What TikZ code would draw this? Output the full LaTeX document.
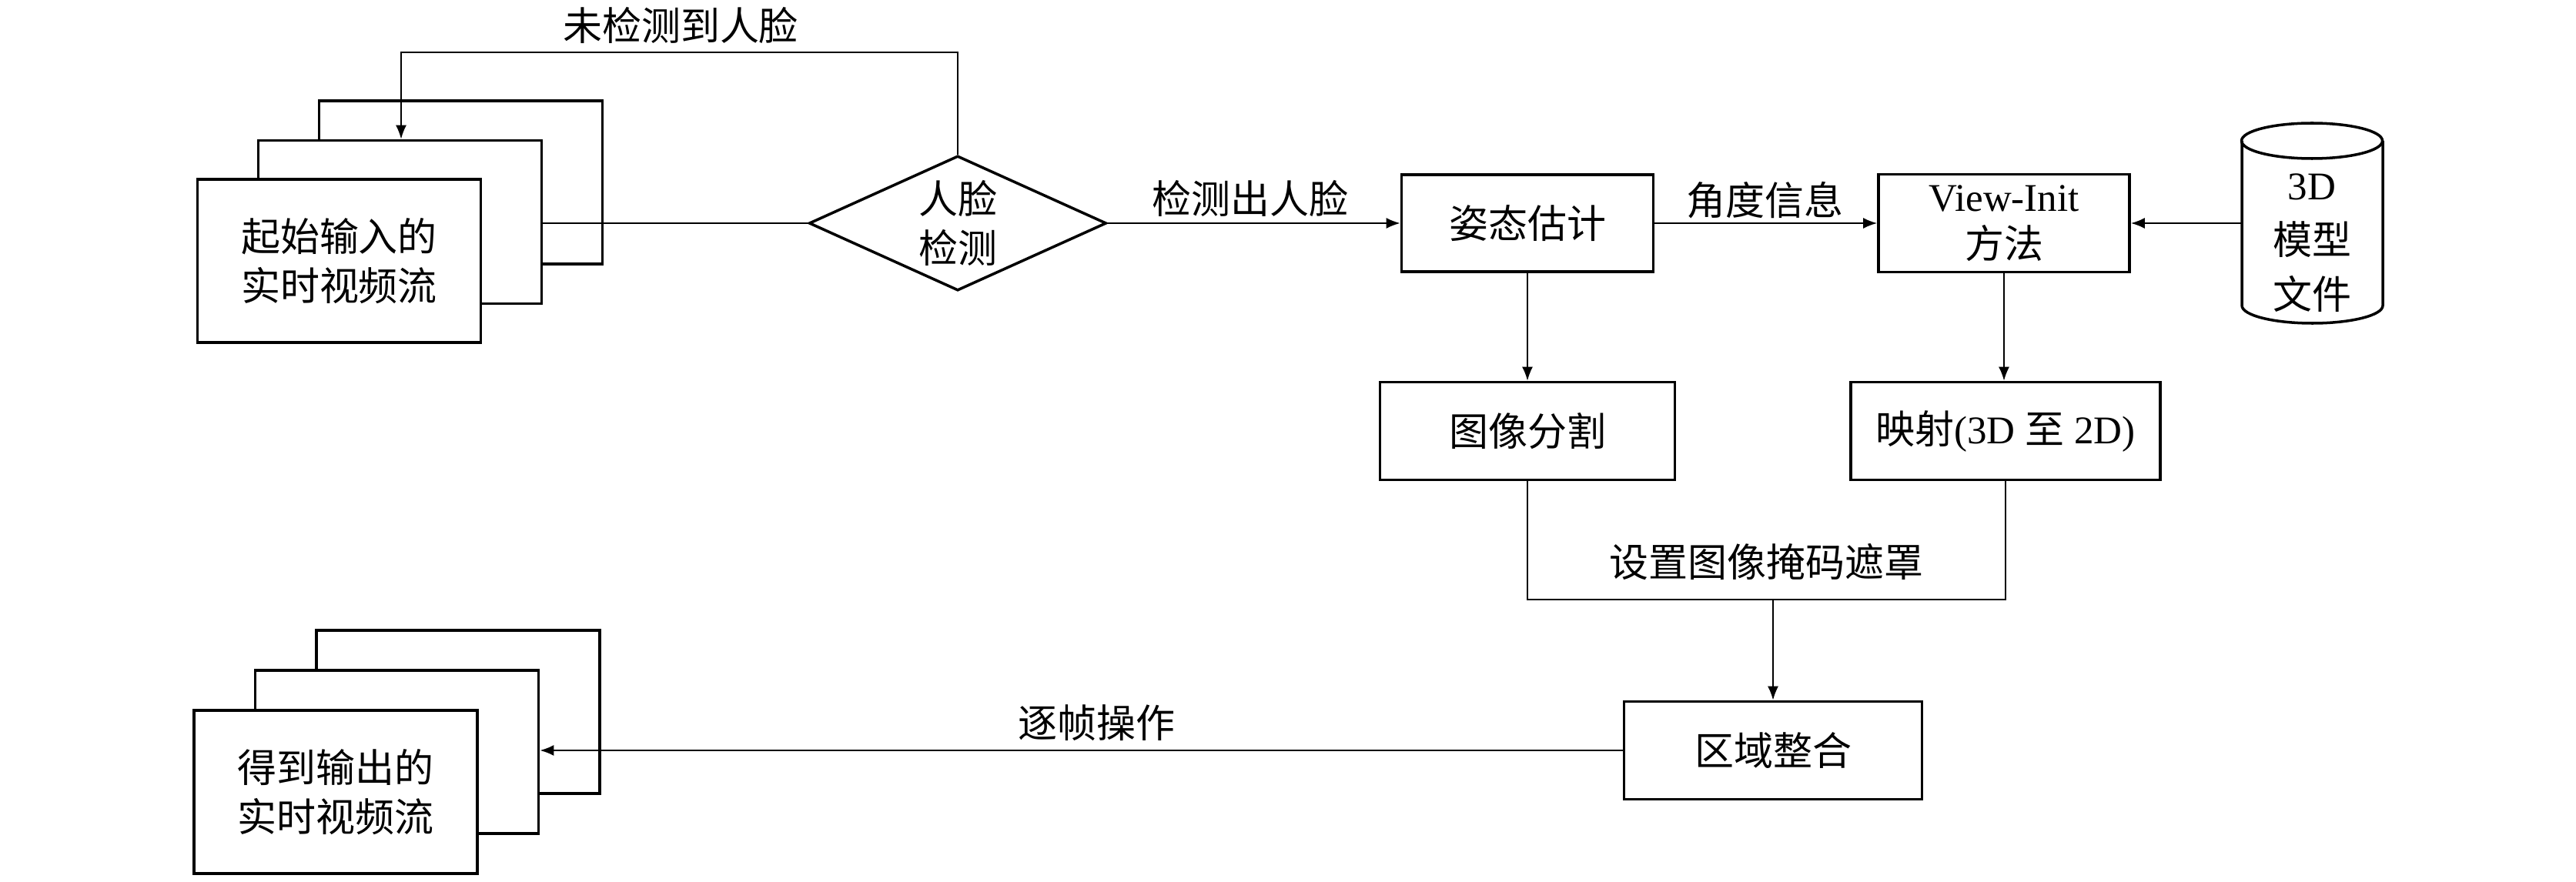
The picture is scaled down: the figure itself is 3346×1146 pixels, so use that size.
\documentclass[tikz,border=0pt]{standalone}
\usepackage{fontspec}
\setmainfont{Liberation Serif}
\newfontfamily\cjk{Noto Sans CJK SC}
\usetikzlibrary{shapes.geometric,arrows.meta}
\tikzset{
  txt/.style={font=\cjk\fontsize{14.5pt}{18.2pt}\selectfont, align=center, inner sep=0pt},
  box/.style={txt, draw, line width=1pt, fill=white, minimum width=3.68cm, minimum height=2.12cm},
  pbox/.style={txt, draw, line width=1pt, fill=white},
  conn/.style={line width=0.55pt},
  arr/.style={conn, -{Latex[length=1.8mm,width=1.4mm]}},
  lbl/.style={txt}
}
\begin{document}
\begin{tikzpicture}[x=0.01cm,y=-0.01cm]
\useasboundingbox (0,0) rectangle (3346,1146);
% input stack
\node[box] (in3) at (598.5,237) {};
\node[box] (in2) at (519.5,288.5) {};
\node[box] (in1) at (440.5,339) {起始输入的\\实时视频流};
% face detection diamond
\node[txt, draw, line width=1pt, shape=diamond, shape aspect=2.2, minimum width=3.86cm, minimum height=1.75cm] (det) at (1244,290) {人脸\\检测};
\draw[conn] (det.west) -- (det.west -| in2.east);
\coordinate (fb) at (521,68);
\draw[arr] (det.north) |- (fb) -- (fb |- in2.north);
\node[lbl] (lnd) at (884,33) {未检测到人脸};
% pose
\node[pbox, minimum width=3.27cm, minimum height=1.26cm] (pose) at (1984,290) {姿态估计};
\draw[arr] (det.east) -- (det.east -| pose.west);
\node[lbl] (ldet) at (1624,258) {检测出人脸};
% view-init
\node[pbox, minimum width=3.26cm, minimum height=1.27cm] (view) at (2603,290) {{\rmfamily View-Init}\\[-1pt]方法};
\draw[arr] (pose.east) -- (view.west);
\node[lbl] (lang) at (2292,260) {角度信息};
% cylinder
\draw[line width=1pt, fill=white] (2912,183) -- (2912,397) arc[start angle=180, end angle=0, x radius=91.5, y radius=23] -- (3095,183);
\draw[line width=1pt] (3003,183) ellipse [x radius=91.5, y radius=23];
\node[txt] (cyl) at (3003,316) {{\rmfamily 3D}\\[2pt]模型\\[2pt]文件};
\coordinate (cylw) at (2912,290);
\draw[arr] (cylw) -- (view.east);
% segmentation and mapping
\node[pbox, minimum width=3.83cm, minimum height=1.27cm] (seg) at (1984,560) {图像分割};
\node[pbox, minimum width=4.02cm, minimum height=1.27cm] (map) at (2605,560) {映射{\rmfamily (3D }至{\rmfamily\ 2D)}};
\draw[arr] (pose.south) -- (seg.north);
\draw[arr] (view.south) -- (view.south |- map.north);
% merge
\node[pbox, minimum width=3.87cm, minimum height=1.27cm] (merge) at (2303,975) {区域整合};
\coordinate (mj) at (2303,779);
\draw[conn] (seg.south) |- (mj);
\draw[conn] (map.south) |- (mj);
\draw[arr] (mj) -- (merge.north);
\node[lbl] (lmask) at (2294,730) {设置图像掩码遮罩};
% output stack
\node[box] (out3) at (595,925) {};
\node[box] (out2) at (515.5,977) {};
\node[box] (out1) at (436,1029) {得到输出的\\实时视频流};
\draw[arr] (merge.west) -- (merge.west -| out2.east);
\node[lbl] (lfr) at (1424,939) {逐帧操作};
\end{tikzpicture}
\end{document}
